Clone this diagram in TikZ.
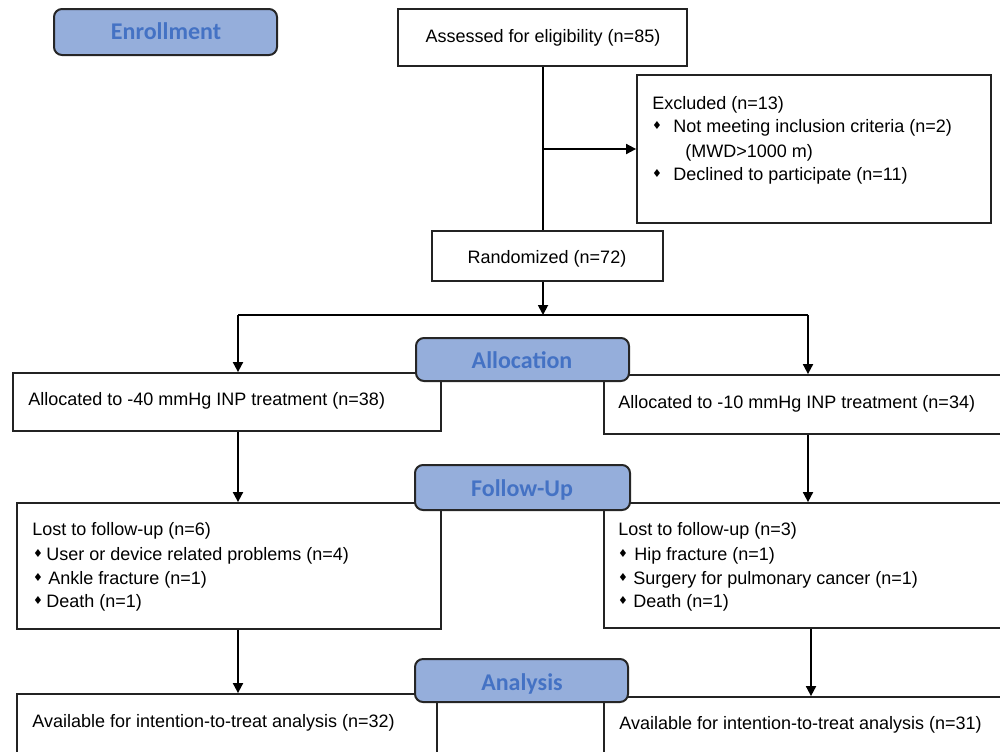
\documentclass[tikz,border=0pt]{standalone}
\usepackage{fontspec}
\setmainfont{Liberation Sans}
\newfontfamily\phasefont{Carlito}
\newfontfamily\symfont{DejaVu Sans}
\usetikzlibrary{arrows.meta,fit}
\definecolor{labelfill}{RGB}{149,174,219}
\definecolor{labeltext}{RGB}{68,114,196}
\definecolor{boxline}{RGB}{35,35,35}
\begin{document}
\begin{tikzpicture}[x=0.5pt,y=-0.5pt,
  box/.style={draw=boxline, line width=0.9pt, fill=white, inner sep=0pt},
  phase/.style={draw=black!85, line width=1pt, fill=labelfill, rounded corners=4pt, inner sep=0pt},
  phasetxt/.style={inner sep=0pt, font=\phasefont\bfseries\fontsize{12}{12}\selectfont, text=labeltext,
    text height=0.63em, text depth=0pt, anchor=center},
  txt/.style={inner sep=0pt, font=\fontsize{9}{11}\selectfont, text height=0.72em, text depth=0pt, anchor=west},
  ctxt/.style={txt, anchor=center},
  bul/.style={inner sep=0pt, font=\symfont\fontsize{5.5}{5.5}\selectfont, anchor=center},
  conn/.style={line width=0.9pt, black},
  arr/.style={conn, -{Triangle[length=5pt,width=5pt]}}
]
\useasboundingbox (0,0) rectangle (1000,751);
\clip (0,0) rectangle (1000,751);

% white boxes
\node[box, fit={(398,9)(687,66)}] (assess) {};
\node[box, fit={(637,75)(991,223)}] (excl) {};
\node[box, fit={(432,231)(663,281)}] (rand) {};
\node[box, fit={(13,373)(441,431)}] (allocL) {};
\node[box, fit={(604,375)(1012,434)}] (allocR) {};
\node[box, fit={(17,503)(441,629)}] (followL) {};
\node[box, fit={(604,503)(1012,628)}] (followR) {};
\node[box, fit={(17,694)(437,765)}] (anaL) {};
\node[box, fit={(604,697)(1012,765)}] (anaR) {};

% texts
\node[ctxt] (assessT) at (543,35) {Assessed for eligibility (n=85)};
\node[ctxt] (randT) at (547,256) {Randomized (n=72)};

\node[txt] (ex0) at (652,102) {Excluded (n=13)};
\node[bul] (ex1b) at (657,125) {♦};
\node[txt] (ex1) at (673,125) {Not meeting inclusion criteria (n=2)};
\node[txt] (ex2) at (685,150) {(MWD>1000 m)};
\node[bul] (ex3b) at (657,173) {♦};
\node[txt] (ex3) at (673,173) {Declined to participate (n=11)};

\node[txt] (alLt) at (28,398) {Allocated to -40 mmHg INP treatment (n=38)};
\node[txt] (alRt) at (618,401) {Allocated to -10 mmHg INP treatment (n=34)};

\node[txt] (fL0) at (32,528) {Lost to follow-up (n=6)};
\node[bul] (fL1b) at (38,553) {♦};
\node[txt] (fL1) at (46,553) {User or device related problems (n=4)};
\node[bul] (fL2b) at (38,577) {♦};
\node[txt] (fL2) at (48,577) {Ankle fracture (n=1)};
\node[bul] (fL3b) at (38,600) {♦};
\node[txt] (fL3) at (46,600) {Death (n=1)};

\node[txt] (fR0) at (618,528) {Lost to follow-up (n=3)};
\node[bul] (fR1b) at (623,553) {♦};
\node[txt] (fR1) at (634,553) {Hip fracture (n=1)};
\node[bul] (fR2b) at (623,577) {♦};
\node[txt] (fR2) at (633,577) {Surgery for pulmonary cancer (n=1)};
\node[bul] (fR3b) at (623,600) {♦};
\node[txt] (fR3) at (633,600) {Death (n=1)};

\node[txt] (aLt) at (32,720) {Available for intention-to-treat analysis (n=32)};
\node[txt] (aRt) at (619,722) {Available for intention-to-treat analysis (n=31)};

% connectors
\coordinate (exj) at (543,149);
\coordinate (split) at (543,315);
\coordinate (sL) at (238,315);
\coordinate (sR) at (808,315);
\coordinate (bR) at (811,630);
\draw[conn] (exj |- assess.south) -- (exj |- rand.north);
\draw[arr] (exj) -- (exj -| excl.west);
\draw[arr] (split |- rand.south) -- (split);
\draw[conn] (sL) -- (sR);
\draw[arr] (sL) -- (sL |- allocL.north);
\draw[arr] (sR) -- (sR |- allocR.north);
\draw[arr] (sL |- allocL.south) -- (sL |- followL.north);
\draw[arr] (sR |- allocR.south) -- (sR |- followR.north);
\draw[arr] (sL |- followL.south) -- (sL |- anaL.north);
\draw[arr] (bR |- followR.south) -- (bR |- anaR.north);

% phase labels
\node[phase, fit={(54,9)(277,55)}] (enroll) {};
\node[phasetxt] (enrollT) at (166,33) {Enrollment};
\node[phase, fit={(416,338)(629,381)}] (allocPh) {};
\node[phasetxt] (allocPhT) at (522,362) {Allocation};
\node[phase, fit={(415,465)(630,510)}] (followPh) {};
\node[phasetxt] (followPhT) at (522,490) {Follow-Up};
\node[phase, fit={(415,659)(628,702)}] (anaPh) {};
\node[phasetxt] (anaPhT) at (522,684) {Analysis};
\end{tikzpicture}
\end{document}
